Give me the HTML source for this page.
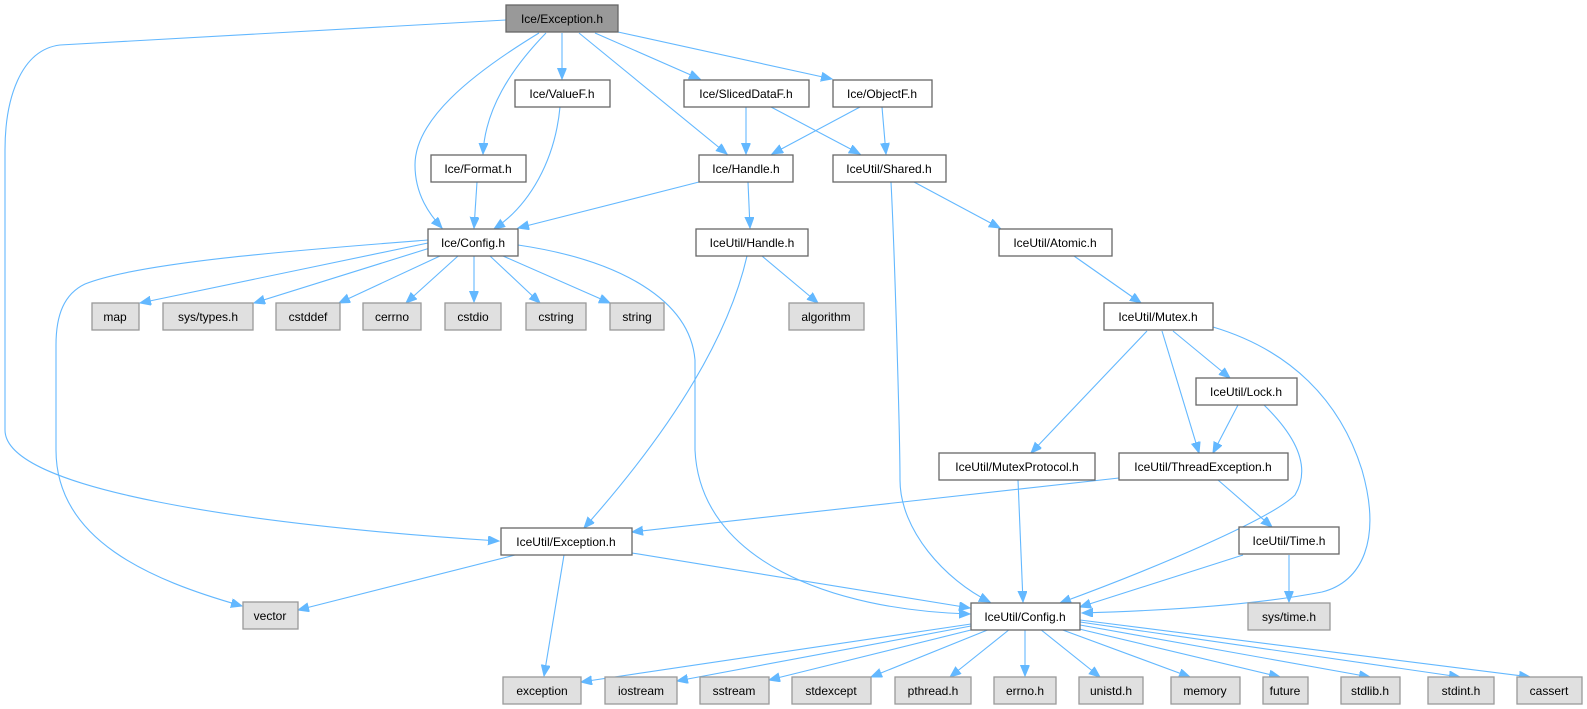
<!DOCTYPE html>
<html><head><meta charset="utf-8"><style>
html,body{margin:0;padding:0;background:#fff;}
svg{display:block;}
text{font-family:"Liberation Sans",Arial,sans-serif;font-size:12px;fill:#000;text-anchor:middle;}
.e{fill:none;stroke:#63b8ff;stroke-width:1.1;marker-end:url(#a);}
.n{fill:#fff;stroke:#666;stroke-width:1.3;}
.g{fill:#e0e0e0;stroke:#999;stroke-width:1.3;}
.r{fill:#999;stroke:#666;stroke-width:1.3;}
</style></head><body>
<svg width="1587" height="709" viewBox="0 0 1587 709" xmlns="http://www.w3.org/2000/svg">
<defs><marker id="a" markerUnits="userSpaceOnUse" markerWidth="12" markerHeight="10" refX="11" refY="4.5" orient="auto"><path d="M0,0 L11,4.5 L0,9 z" fill="#63b8ff" stroke="#63b8ff"/></marker></defs>
<g>
<path class="e" d="M506,20 L60,45 C20,50 5,100 5,150 L5,430 C5,490 250,525 499,541"/>
<path class="e" d="M539,33 C470,75 415,120 415,165 C415,195 430,215 442,228"/>
<path class="e" d="M546,33 C510,70 485,110 483,154"/>
<path class="e" d="M562,33 L562,79"/>
<path class="e" d="M579,33 L727,154"/>
<path class="e" d="M595,33 L700,79"/>
<path class="e" d="M618,32 L832,79"/>
<path class="e" d="M560,107 C555,160 530,205 494,229"/>
<path class="e" d="M477,182 L474,228"/>
<path class="e" d="M746,107 L746,154"/>
<path class="e" d="M771,107 L860,154"/>
<path class="e" d="M860,107 L772,154"/>
<path class="e" d="M882,107 L886,154"/>
<path class="e" d="M699,182 L518,228"/>
<path class="e" d="M748,182 L750,228"/>
<path class="e" d="M914,182 L1000,228"/>
<path class="e" d="M891,182 C895,260 900,440 900,480 C900,530 945,580 990,602"/>
<path class="e" d="M428,243 L140,303"/>
<path class="e" d="M430,248 L254,303"/>
<path class="e" d="M440,256 L339,303"/>
<path class="e" d="M458,256 L406,303"/>
<path class="e" d="M474,256 L474,302"/>
<path class="e" d="M490,256 L540,303"/>
<path class="e" d="M503,256 L610,303"/>
<path class="e" d="M428,240 C300,250 140,262 85,284 C64,294 56,315 56,345 L56,450 C56,540 150,580 242,606"/>
<path class="e" d="M518,245 C620,260 690,300 695,360 L695,450 C700,560 830,610 970,614"/>
<path class="e" d="M762,256 L818,303"/>
<path class="e" d="M747,256 C730,330 680,420 584,528"/>
<path class="e" d="M1074,256 L1141,303"/>
<path class="e" d="M1147,331 L1031,453"/>
<path class="e" d="M1162,331 L1199,453"/>
<path class="e" d="M1173,331 L1230,378"/>
<path class="e" d="M1213,327 C1290,350 1340,400 1362,470 C1382,540 1362,582 1322,592 C1250,606 1150,611 1082,613"/>
<path class="e" d="M1238,405 L1213,453"/>
<path class="e" d="M1264,405 C1300,440 1310,470 1295,495 C1270,520 1150,570 1060,603"/>
<path class="e" d="M1018,480 L1023,602"/>
<path class="e" d="M1119,478 L632,532"/>
<path class="e" d="M1218,480 L1272,527"/>
<path class="e" d="M1243,555 L1080,607"/>
<path class="e" d="M1289,555 L1289,602"/>
<path class="e" d="M515,555 L298,610"/>
<path class="e" d="M564,555 L544,676"/>
<path class="e" d="M632,553 L970,608"/>
<path class="e" d="M971,624 L581,682"/>
<path class="e" d="M971,626 L677,681"/>
<path class="e" d="M975,629 L769,680"/>
<path class="e" d="M990,629 L871,677"/>
<path class="e" d="M1010,629 L950,677"/>
<path class="e" d="M1025,629 L1025,676"/>
<path class="e" d="M1040,629 L1100,677"/>
<path class="e" d="M1060,629 L1190,677"/>
<path class="e" d="M1075,628 L1280,677"/>
<path class="e" d="M1080,625 L1370,677"/>
<path class="e" d="M1080,622 L1460,677"/>
<path class="e" d="M1080,620 L1530,677"/>
</g>
<g>
<rect class="r" x="506" y="5" width="112" height="27"/><text x="562" y="23">Ice/Exception.h</text>
<rect class="n" x="515" y="80" width="95" height="27"/><text x="562" y="98">Ice/ValueF.h</text>
<rect class="n" x="684" y="80" width="125" height="27"/><text x="746" y="98">Ice/SlicedDataF.h</text>
<rect class="n" x="833" y="80" width="99" height="27"/><text x="882" y="98">Ice/ObjectF.h</text>
<rect class="n" x="431" y="155" width="95" height="27"/><text x="478" y="173">Ice/Format.h</text>
<rect class="n" x="699" y="155" width="94" height="27"/><text x="746" y="173">Ice/Handle.h</text>
<rect class="n" x="833" y="155" width="113" height="27"/><text x="889" y="173">IceUtil/Shared.h</text>
<rect class="n" x="428" y="229" width="90" height="27"/><text x="473" y="247">Ice/Config.h</text>
<rect class="n" x="696" y="229" width="112" height="27"/><text x="752" y="247">IceUtil/Handle.h</text>
<rect class="n" x="999" y="229" width="113" height="27"/><text x="1055" y="247">IceUtil/Atomic.h</text>
<rect class="g" x="92" y="303" width="47" height="27"/><text x="115" y="321">map</text>
<rect class="g" x="163" y="303" width="90" height="27"/><text x="208" y="321">sys/types.h</text>
<rect class="g" x="276" y="303" width="64" height="27"/><text x="308" y="321">cstddef</text>
<rect class="g" x="363" y="303" width="58" height="27"/><text x="392" y="321">cerrno</text>
<rect class="g" x="445" y="303" width="56" height="27"/><text x="473" y="321">cstdio</text>
<rect class="g" x="526" y="303" width="60" height="27"/><text x="556" y="321">cstring</text>
<rect class="g" x="610" y="303" width="54" height="27"/><text x="637" y="321">string</text>
<rect class="g" x="789" y="303" width="75" height="27"/><text x="826" y="321">algorithm</text>
<rect class="n" x="1104" y="303" width="109" height="27"/><text x="1158" y="321">IceUtil/Mutex.h</text>
<rect class="n" x="1196" y="378" width="101" height="27"/><text x="1246" y="396">IceUtil/Lock.h</text>
<rect class="n" x="939" y="453" width="156" height="27"/><text x="1017" y="471">IceUtil/MutexProtocol.h</text>
<rect class="n" x="1119" y="453" width="169" height="27"/><text x="1203" y="471">IceUtil/ThreadException.h</text>
<rect class="n" x="501" y="528" width="131" height="27"/><text x="566" y="546">IceUtil/Exception.h</text>
<rect class="n" x="1239" y="527" width="100" height="27"/><text x="1289" y="545">IceUtil/Time.h</text>
<rect class="g" x="243" y="602" width="55" height="27"/><text x="270" y="620">vector</text>
<rect class="n" x="971" y="603" width="109" height="27"/><text x="1025" y="621">IceUtil/Config.h</text>
<rect class="g" x="1248" y="603" width="82" height="27"/><text x="1289" y="621">sys/time.h</text>
<rect class="g" x="503" y="677" width="78" height="27"/><text x="542" y="695">exception</text>
<rect class="g" x="605" y="677" width="72" height="27"/><text x="641" y="695">iostream</text>
<rect class="g" x="700" y="677" width="69" height="27"/><text x="734" y="695">sstream</text>
<rect class="g" x="792" y="677" width="79" height="27"/><text x="831" y="695">stdexcept</text>
<rect class="g" x="895" y="677" width="76" height="27"/><text x="933" y="695">pthread.h</text>
<rect class="g" x="994" y="677" width="62" height="27"/><text x="1025" y="695">errno.h</text>
<rect class="g" x="1079" y="677" width="64" height="27"/><text x="1111" y="695">unistd.h</text>
<rect class="g" x="1171" y="677" width="69" height="27"/><text x="1205" y="695">memory</text>
<rect class="g" x="1263" y="677" width="45" height="27"/><text x="1285" y="695">future</text>
<rect class="g" x="1341" y="677" width="59" height="27"/><text x="1370" y="695">stdlib.h</text>
<rect class="g" x="1428" y="677" width="66" height="27"/><text x="1461" y="695">stdint.h</text>
<rect class="g" x="1517" y="677" width="65" height="27"/><text x="1549" y="695">cassert</text>
</g>
</svg>
</body></html>
